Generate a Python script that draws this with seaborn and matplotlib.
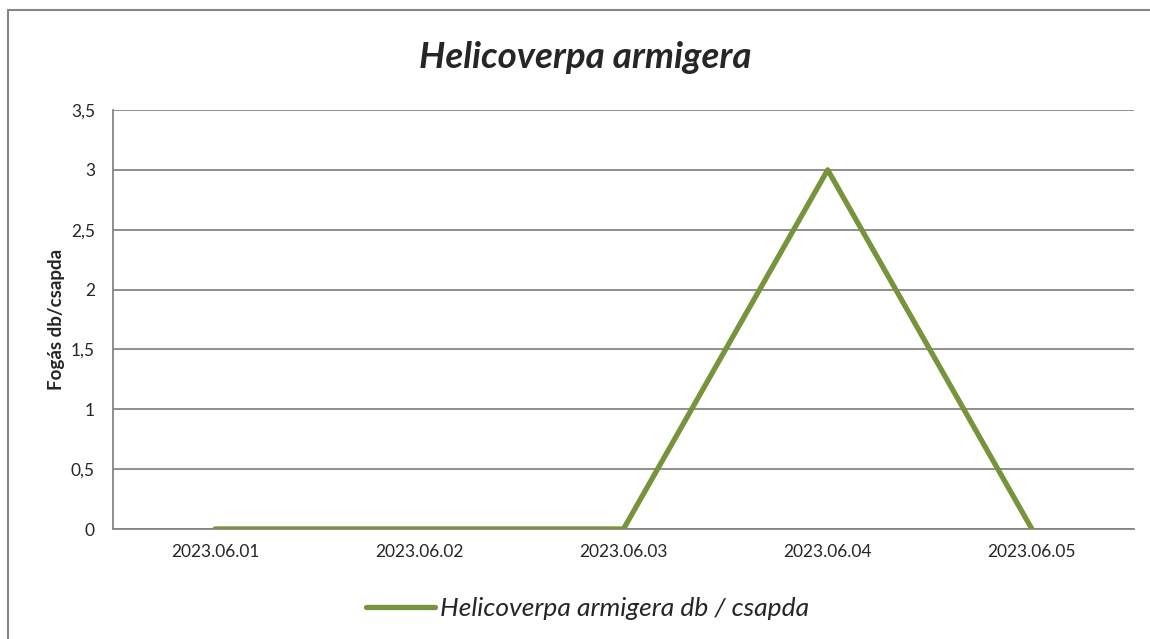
import matplotlib.pyplot as plt
import seaborn as sns
import pandas as pd
from matplotlib.patches import Rectangle

dates = ["2023.06.01", "2023.06.02", "2023.06.03", "2023.06.04", "2023.06.05"]
catches = [0, 0, 0, 3, 0]
series_name = "Helicoverpa armigera db / csapda"
yticks = [0, 0.5, 1, 1.5, 2, 2.5, 3, 3.5]

sns.set_style("white")
plt.rcParams["font.family"] = ["Lato", "DejaVu Sans"]

df = pd.DataFrame({"date": dates, "catch": catches})
df["pos"] = range(len(dates))

fig = plt.figure(figsize=(11.5, 6.39), dpi=100)
ax = fig.add_axes([113 / 1150, 1 - 529 / 639, (1134 - 113) / 1150, (529 - 110) / 639])

grid_c = "#868686"
line_c = "#77933C"

sns.lineplot(data=df, x="pos", y="catch", ax=ax, color=line_c, linewidth=3.8,
             label=series_name, solid_capstyle="round", zorder=3)

ax.set_xlim(-0.5, len(dates) - 0.5)
ax.set_ylim(0, 3.5)
ax.set_xticks(df["pos"])
ax.set_xticklabels(dates, fontsize=12.5)
ax.set_yticks(yticks)
ax.set_yticklabels([f"{v:g}".replace(".", ",") for v in yticks], fontsize=12.5)
ax.tick_params(axis="x", length=0, pad=11)
ax.tick_params(axis="y", length=0, pad=13)
ax.yaxis.grid(True, color=grid_c, linewidth=1.3)
ax.xaxis.grid(False)
for s in ["top", "right"]:
    ax.spines[s].set_visible(False)
for s in ["left", "bottom"]:
    ax.spines[s].set_color(grid_c)
    ax.spines[s].set_linewidth(1.3)

ax.set_xlabel("")
ax.set_ylabel("Fogás db/csapda", fontsize=13.5, fontweight="bold")
ax.yaxis.set_label_coords(-0.047, 0.5)

fig.text(0.509, 1 - 58 / 639, "Helicoverpa armigera", ha="center", va="center",
         fontsize=26.5, fontweight="bold", fontstyle="italic")

leg = ax.legend(loc="center", bbox_to_anchor=(0.465, -0.19), frameon=False,
                prop={"style": "italic", "size": 19}, handlelength=2.6, handletextpad=0.2)
for h in leg.get_lines():
    h.set_linewidth(3.8)

fig.add_artist(Rectangle((8 / 1150, -0.05), 1.2, 1 - 10 / 639 + 0.05, transform=fig.transFigure,
                         fill=False, edgecolor=grid_c, linewidth=1.5))

fig.savefig("out.png", dpi=100)
